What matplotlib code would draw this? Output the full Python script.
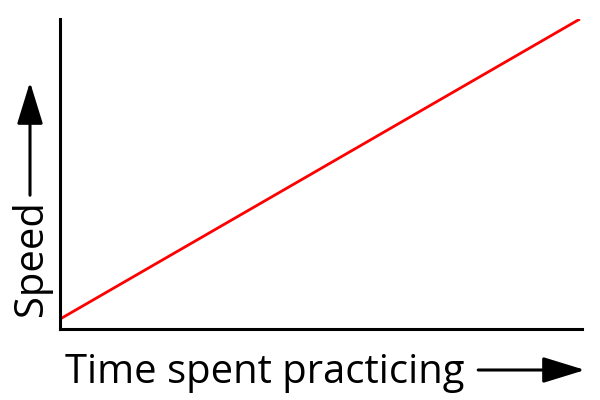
import matplotlib.pyplot as plt

plt.rcParams['font.family'] = ['Open Sans', 'DejaVu Sans']

# values (arbitrary units)
time_spent = [0.0, 1.0]
speed = [0.032, 1.0]

fig = plt.figure(figsize=(6, 4), dpi=100)
ax = fig.add_axes([0.1, 0.1775, 0.87, 0.775])

ax.plot(time_spent, speed, color='#ff0000', linewidth=2.0, solid_capstyle='butt')
ax.set_xlim(0, 1.004)
ax.set_ylim(0, 1.0)

for side in ['top', 'right']:
    ax.spines[side].set_visible(False)
for side in ['left', 'bottom']:
    ax.spines[side].set_linewidth(2.2)
ax.set_xticks([])
ax.set_yticks([])

fig.text(0.108, 0.043, 'Time spent practicing', fontsize=28.8, ha='left', va='baseline')
fig.text(0.018, 0.21, 'Speed', fontsize=28.8, rotation=90, ha='left', va='bottom')

# axis arrows
arrow = dict(arrowstyle='-|>,head_length=1.3,head_width=0.4', color='black',
             lw=2.2, mutation_scale=20, shrinkA=0, shrinkB=0)
ax.annotate('', xy=(0.975, 0.075), xytext=(0.797, 0.075),
            xycoords='figure fraction', arrowprops=arrow)
ax.annotate('', xy=(0.05, 0.795), xytext=(0.05, 0.512),
            xycoords='figure fraction', arrowprops=arrow)

fig.savefig('out.png', dpi=100)
